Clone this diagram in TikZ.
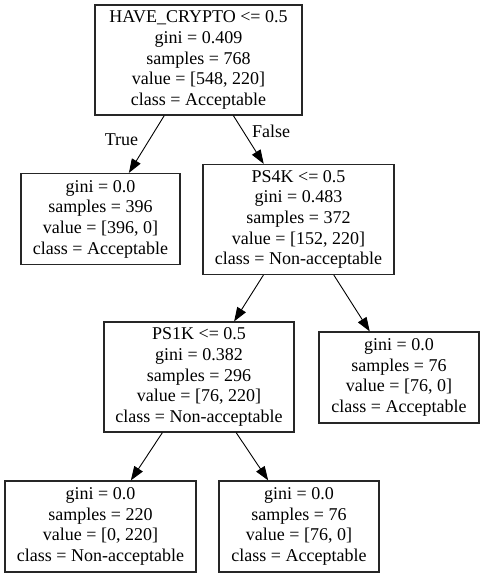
\documentclass[tikz,border=0pt]{standalone}
\usepackage{fontspec}
\setmainfont{Liberation Serif}
\usetikzlibrary{arrows.meta}
\begin{document}
\begin{tikzpicture}[x=1pt,y=-1pt,
  treebox/.style={draw=black!85, line width=1.2pt, rectangle, align=center, inner sep=0pt,
    font=\fontsize{18}{20.7}\selectfont},
  tall/.style={minimum height=110pt},
  short/.style={minimum height=91pt},
  edge/.style={draw=black, line width=0.9pt, -{Triangle[length=14pt,width=10pt]}},
  elabel/.style={font=\fontsize{18}{20.7}\selectfont, inner sep=0pt}]
\useasboundingbox (0,0) rectangle (483,577);
\node[treebox,tall,minimum width=207pt] (root) at (198.5,60)
  {HAVE\_CRYPTO <= 0.5\\gini = 0.409\\samples = 768\\value = [548, 220]\\class = Acceptable};
\node[treebox,short,minimum width=159pt] (l1) at (100.5,219)
  {gini = 0.0\\samples = 396\\value = [396, 0]\\class = Acceptable};
\node[treebox,tall,minimum width=191pt] (ps4k) at (298.5,219.5)
  {PS4K <= 0.5\\gini = 0.483\\samples = 372\\value = [152, 220]\\class = Non-acceptable};
\node[treebox,tall,minimum width=190pt] (ps1k) at (199,377)
  {PS1K <= 0.5\\gini = 0.382\\samples = 296\\value = [76, 220]\\class = Non-acceptable};
\node[treebox,short,minimum width=160pt] (r2) at (399,377.5)
  {gini = 0.0\\samples = 76\\value = [76, 0]\\class = Acceptable};
\node[treebox,short,minimum width=191pt] (bl) at (100.5,526.5)
  {gini = 0.0\\samples = 220\\value = [0, 220]\\class = Non-acceptable};
\node[treebox,short,minimum width=160pt] (br) at (299,526.5)
  {gini = 0.0\\samples = 76\\value = [76, 0]\\class = Acceptable};
\draw[edge] (root) -- (l1);
\draw[edge] (root) -- (ps4k);
\draw[edge] (ps4k) -- (ps1k);
\draw[edge] (ps4k) -- (r2);
\draw[edge] (ps1k) -- (bl);
\draw[edge] (ps1k) -- (br);
\node[elabel] (tlab) at (121.5,140) {True};
\node[elabel] (flab) at (271,131) {False};
\end{tikzpicture}
\end{document}
